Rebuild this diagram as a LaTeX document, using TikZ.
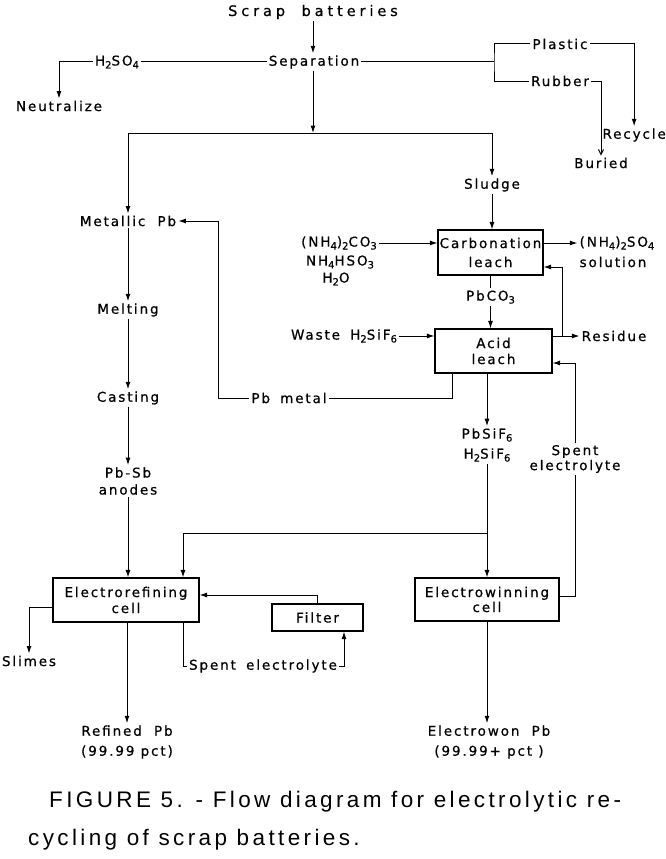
\documentclass[tikz,border=0pt]{standalone}
\usepackage{fontspec}
\setmainfont{DejaVu Sans}
\newfontfamily\lf[LetterSpace=14,FakeBold=0.6]{DejaVu Sans}
\newfontfamily\cf[LetterSpace=15]{Liberation Sans}
\usetikzlibrary{arrows.meta}
\newcommand\lsub[1]{\raisebox{-0.4ex}{\fontsize{10}{10}\selectfont #1}}
\begin{document}
\begin{tikzpicture}[x=1pt,y=-1pt,
  every node/.style={font=\lf\fontsize{13.5}{16}\selectfont, inner sep=2pt},
  lbl/.style={align=center},
  box/.style={draw, line width=1.1pt, align=center, inner sep=0pt},
  ln/.style={line width=1pt},
  arr/.style={line width=1pt, -{Latex[length=7.5pt,width=5pt]}},
  oarr/.style={line width=1pt, -{Straight Barb[length=5pt,width=5pt]}},
  capt/.style={anchor=west, inner sep=0pt, font=\cf\fontsize{22.5}{28}\selectfont}]
\useasboundingbox[fill=white] (0,0) rectangle (666,859);

\node (scrap) at (313,12) {\fontsize{14.5}{16}\selectfont\addfontfeature{LetterSpace=27}Scrap\hspace{8pt} batteries};
\node (sep) at (314,62) {Separation};
\node (h2so4) at (117,62) {H\lsub{2}SO\lsub{4}};
\node (neut) at (59,106) {Neutralize};
\node (plastic) at (560,44) {Plastic};
\node (rubber) at (560,81) {Rubber};
\node[anchor=east, inner xsep=0pt] (recycle) at (666,135) {Recycle};
\node (buried) at (601,163) {Buried};
\node (sludge) at (492,185) {Sludge};
\node (metpb) at (128,221) {Metallic\hspace{6pt} Pb};
\node (melting) at (128,310) {Melting};
\node (casting) at (128,398) {Casting};
\node[lbl] (anodes) at (128,481) {Pb-Sb\\[1pt]anodes};
\node[box, minimum width=105pt, minimum height=45pt] (carb) at (490.5,252.5) {Carbonation\\[3pt]leach};
\node (nhco) at (339,243) {(NH\lsub{4})\lsub{2}CO\lsub{3}};
\node (nhhso) at (340,262) {NH\lsub{4}HSO\lsub{3}};
\node (hwo) at (336,279) {H\lsub{2}O};
\node (nhso) at (617,243) {(NH\lsub{4})\lsub{2}SO\lsub{4}};
\node (soln) at (613,262) {solution};
\node (pbco) at (490.5,297) {PbCO\lsub{3}};
\node[box, minimum width=117pt, minimum height=44pt] (acid) at (493.5,351) {Acid\\leach};
\node (waste) at (344,336) {Waste\hspace{4pt} H\lsub{2}SiF\lsub{6}};
\node (residue) at (614,336) {Residue};
\node (pbmetal) at (289,398) {Pb\hspace{4pt} metal};
\node[lbl] (pbsif) at (487,445) {PbSiF\lsub{6}\\[4pt]H\lsub{2}SiF\lsub{6}};
\node[lbl] (spent1) at (575,459) {Spent\\[-1pt]electrolyte};
\node[box, minimum width=146pt, minimum height=44pt] (er) at (126,600) {Electrorefining\\cell};
\node[box, minimum width=144pt, minimum height=43pt] (ew) at (487,599.5) {Electrowinning\\[-1pt]cell};
\node[box, minimum width=91pt, minimum height=27pt] (filter) at (317.5,617.5) {Filter};
\node (slimes) at (29,661) {Slimes};
\node (spent2) at (263,666) {Spent\hspace{4pt} electrolyte};
\node[lbl] (refined) at (127,742) {Refined\hspace{6pt} Pb\\[4pt](99.99 pct)};
\node[lbl] (ewon) at (489,742) {Electrowon\hspace{6pt} Pb\\[4pt](99.99+ pct )};
\node[capt] (cap1) at (49,802) {FIGURE 5. - Flow diagram for electrolytic re-};
\node[capt] (cap2) at (28,840) {cycling of scrap batteries.};

\coordinate (jr) at (494,62);
\coordinate (jt) at (313,133);
\coordinate (fb) at (562,336);
\coordinate (j2) at (487,533);

\draw[arr] (scrap) -- (scrap |- sep.north);
\draw[ln] (sep) -- (h2so4);
\draw[arr] (h2so4.west) -| (neut.north);
\draw[ln] (sep.east) -- (jr);
\draw[ln] (plastic.west) -| (jr) |- (rubber.west);
\draw[arr] (plastic.east) -| (recycle.north);
\draw[oarr] (rubber.east) -| (buried.north);
\draw[arr] (sep.south -| jt) -- (jt);
\draw[arr] (jt) -| (metpb.north);
\draw[arr] (jt) -| (sludge.north);
\draw[arr] (metpb) -- (melting);
\draw[arr] (melting) -- (casting);
\draw[arr] (casting) -- (anodes);
\draw[arr] (anodes) -- (anodes |- er.north);
\draw[arr] (sludge) -- (sludge |- carb.north);
\draw[arr] (nhco) -- (nhco -| carb.west);
\draw[arr] (carb.east |- nhso) -- (nhso.west);
\draw[ln] (carb) -- (pbco);
\draw[arr] (pbco) -- (pbco |- acid.north);
\draw[arr] (waste) -- (waste -| acid.west);
\draw[arr] (acid.east |- residue) -- (residue.west);
\draw[arr] (fb) |- ([yshift=-14.5pt]carb.east);
\draw[ln] ([xshift=-41.5pt]acid.south) |- (pbmetal.east);
\draw[arr] (pbmetal.west) -- ++(-31,0) |- (metpb.east);
\draw[arr] (acid.south -| pbsif) -- (pbsif.north);
\draw[arr] (pbsif) -- (pbsif |- ew.north);
\draw[arr] (j2) -| ([xshift=57pt]er.north);
\draw[ln] ([yshift=3.5pt]ew.east) -| (spent1.south);
\draw[arr] (spent1.north) |- ([yshift=-12pt]acid.east);
\draw[arr] ([yshift=-7pt]er.west) -| (slimes.north);
\draw[arr] (er.south -| refined) -- (refined.north);
\draw[ln] ([xshift=57pt]er.south) |- (spent2.west);
\draw[arr] (spent2.east) -| ([xshift=26.5pt]filter.south);
\draw[arr] (filter.north) |- ([yshift=5pt]er.east);
\draw[arr] (ew) -- (ew |- ewon.north);
\end{tikzpicture}
\end{document}
